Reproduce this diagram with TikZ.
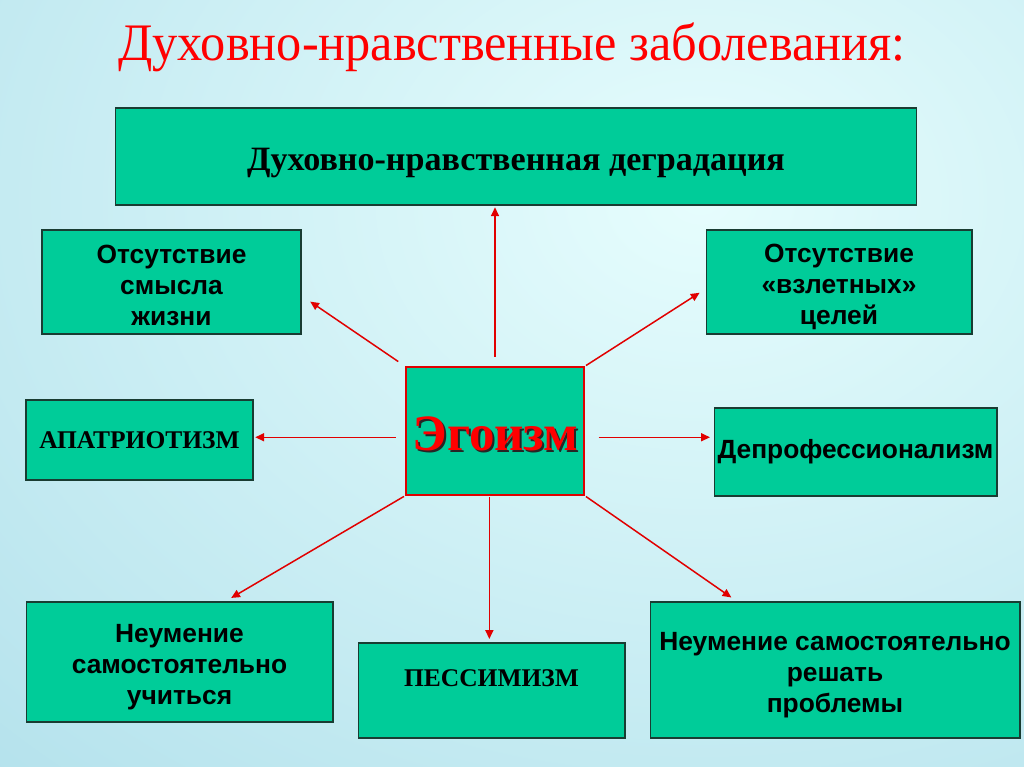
\documentclass[tikz,border=0pt]{standalone}
\usepackage{fontspec}
\setmainfont{Liberation Serif}
\setsansfont{Liberation Sans}
\usetikzlibrary{arrows.meta, positioning}

\definecolor{boxgreen}{RGB}{0,204,153}
\definecolor{boxline}{RGB}{25,60,50}
\definecolor{arrowred}{RGB}{225,0,0}
\definecolor{bginner}{RGB}{230,253,253}
\definecolor{bgouter}{RGB}{168,219,232}

\begin{document}
\begin{tikzpicture}[x=0.02cm, y=-0.02cm,
    box/.style={draw=boxline, fill=boxgreen, line width=0.6pt, align=center, inner sep=0pt,
      font=\sffamily\bfseries\fontsize{15}{17.6}\selectfont},
    serifbox/.style={box, font=\rmfamily\bfseries\fontsize{14.5}{17}\selectfont},
    egotext/.style={font=\rmfamily\bfseries\fontsize{29}{30}\selectfont, inner sep=0pt},
    link/.style={draw=arrowred, line width=0.85pt, -{Triangle[length=5pt,width=4.5pt]}}]

    % Background
    \begin{scope}
      \clip (0,0) rectangle (1024,767);
      \shade[inner color=bginner, outer color=bgouter] (-600,-800) rectangle (2000,1200);
    \end{scope}
    \useasboundingbox (0,0) rectangle (1024,767);

    % Title
    \node[text=red, font=\rmfamily\fontsize{30}{32}\selectfont, anchor=base] (title) at (512,61)
        {\scalebox{0.955}[1]{Духовно-нравственные заболевания:}};

    % Boxes
    \node[serifbox, font=\rmfamily\bfseries\fontsize{19.4}{21}\selectfont, text height=20pt, text depth=4pt,
        minimum width=16.04cm, minimum height=1.94cm] (top) at (516,156.5)
        {Духовно-нравственная деградация};
    \node[box, minimum width=5.18cm, minimum height=2.08cm] (nomeaning) at (171.5,282)
        {\rule{0pt}{14pt}Отсутствие\\смысла\\жизни};
    \node[box, minimum width=5.32cm, minimum height=2.08cm] (nogoals) at (839,282)
        {\rule{0pt}{16pt}Отсутствие\\«взлетных»\\целей};
    \node[serifbox, minimum width=4.54cm, minimum height=1.6cm] (apatr) at (139.5,440)
        {АПАТРИОТИЗМ};
    \node[box, minimum width=5.66cm, minimum height=1.76cm] (deprof) at (855.5,452)
        {Депрофессионализм};
    \node[box, minimum width=6.14cm, minimum height=2.4cm] (nolearn) at (179.5,662)
        {\rule{0pt}{16pt}Неумение\\самостоятельно\\учиться};
    \node[serifbox, text depth=13.6pt, minimum width=5.34cm, minimum height=1.9cm] (pessim) at (491.5,690.5)
        {ПЕССИМИЗМ};
    \node[box, minimum width=7.4cm, minimum height=2.72cm] (nosolve) at (835,670)
        {\rule{0pt}{16.5pt}Неумение самостоятельно\\решать\\проблемы};

    % Centre
    \node[draw=arrowred, fill=boxgreen, line width=0.6pt, minimum width=3.56cm, minimum height=2.56cm] (ego) at (495,431) {};
    \node[egotext, text=black!85] (egoshade) at (497.5,436) {Эгоизм};
    \node[egotext, text=red] (egoword) at (495.5,434) {Эгоизм};

    % Arrows
    \draw[link, shorten <=5.5pt, shorten >=1pt] (ego.north) -- (ego.north |- top.south);
    \draw[link, shorten <=5pt, shorten >=6pt] (ego.north west) -- (nomeaning.-6);
    \draw[link, shorten <=1pt, shorten >=4pt] (ego.north east) -- (nogoals.183);
    \draw[link, shorten <=5.5pt, shorten >=1pt] (ego.184.5) -- (ego.184.5 -| apatr.east);
    \draw[link, shorten <=8pt, shorten >=2pt] (ego.-4) -- (ego.-4 -| deprof.west);
    \draw[link, shorten <=1pt, shorten >=4pt] (ego.south west) -- (nolearn.53);
    \draw[link, shorten <=1pt, shorten >=2pt] (ego.265) -- (ego.265 |- pessim.north);
    \draw[link, shorten <=1pt, shorten >=4pt] (ego.south east) -- (nosolve.145);
\end{tikzpicture}
\end{document}
